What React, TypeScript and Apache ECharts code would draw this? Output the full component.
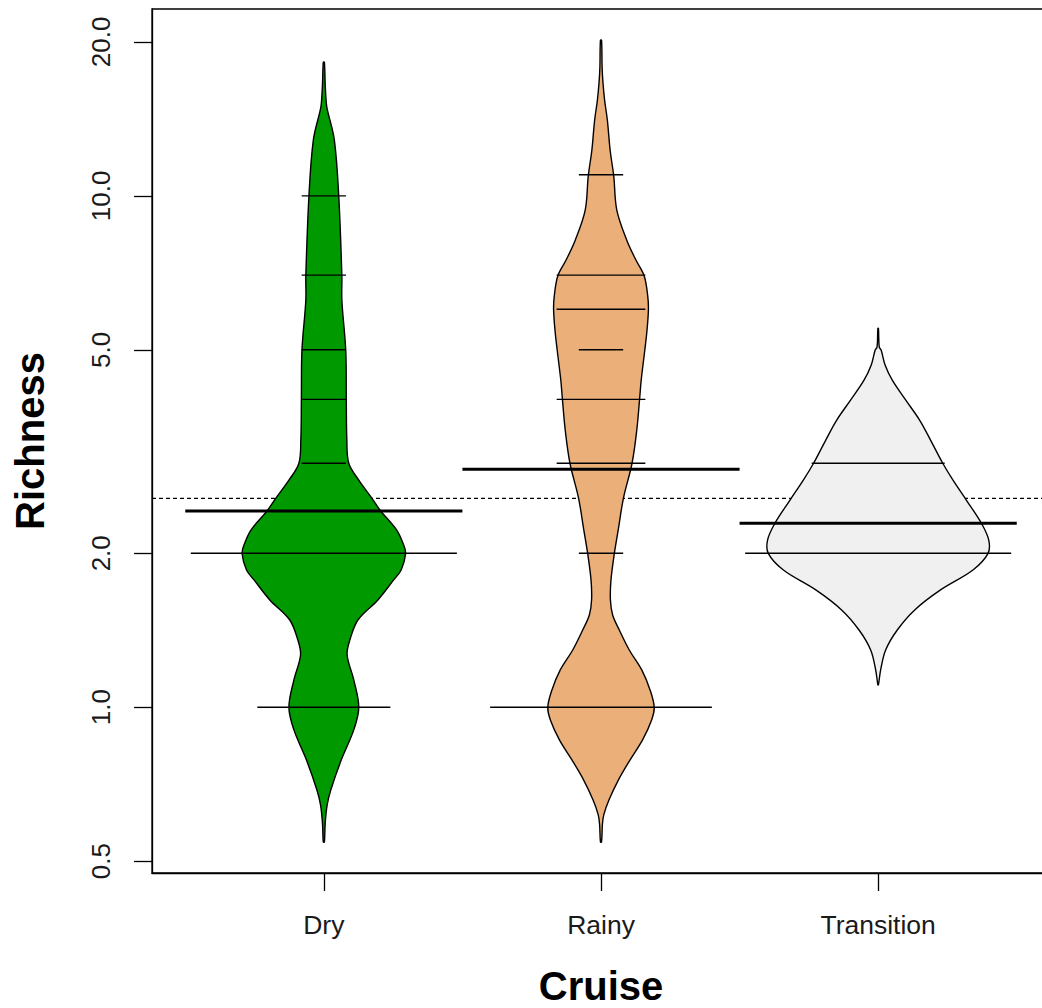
import React, { useEffect, useRef } from "react";
import * as echarts from "echarts";

// ---- data ----
const CATEGORIES = ["Dry", "Rainy", "Transition"];
const BEAN_COLORS = ["#009900", "#EBB07A", "#F0F0F0"];
const Y_TICKS = [0.5, 1, 2, 5, 10, 20];

// density outline: richness value and half-width (x units)
const DRY_DENS_V = [18.25, 16.46, 15.18, 14.71, 12.85, 9.94, 6.97, 6.25, 4.99, 3.99, 3.33, 3.0, 2.78, 2.565, 2.42, 2.22, 2.076, 1.997, 1.855, 1.774, 1.621, 1.481, 1.354, 1.265, 1.131, 1.0, 0.903, 0.789, 0.689, 0.644, 0.594, 0.545];
const DRY_DENS_W = [0.002, 0.005, 0.009, 0.013, 0.038, 0.054, 0.065, 0.065, 0.079, 0.081, 0.083, 0.09, 0.126, 0.173, 0.205, 0.263, 0.288, 0.295, 0.279, 0.252, 0.195, 0.123, 0.094, 0.084, 0.108, 0.126, 0.108, 0.063, 0.025, 0.012, 0.005, 0.002];
const RAINY_DENS_V = [20.16, 17.85, 16.68, 15.39, 14.06, 12.28, 10.93, 9.38, 8.19, 7.49, 6.97, 6.34, 5.98, 5.46, 4.99, 4.36, 3.99, 3.48, 3.0, 2.565, 2.22, 1.997, 1.774, 1.621, 1.515, 1.416, 1.294, 1.183, 1.081, 1.0, 0.945, 0.863, 0.789, 0.721, 0.659, 0.616, 0.589, 0.545];
const RAINY_DENS_W = [0.002, 0.004, 0.007, 0.013, 0.023, 0.033, 0.046, 0.057, 0.093, 0.126, 0.156, 0.169, 0.171, 0.166, 0.158, 0.145, 0.139, 0.129, 0.112, 0.081, 0.062, 0.048, 0.036, 0.034, 0.042, 0.066, 0.102, 0.147, 0.177, 0.192, 0.183, 0.15, 0.105, 0.063, 0.029, 0.01, 0.005, 0.002];
const TRANS_DENS_V = [5.51, 5.06, 4.99, 4.67, 4.36, 3.99, 3.64, 3.33, 3.0, 2.78, 2.542, 2.292, 2.123, 1.997, 1.855, 1.696, 1.55, 1.416, 1.294, 1.183, 1.106];
const TRANS_DENS_W = [0.001, 0.004, 0.011, 0.025, 0.051, 0.099, 0.15, 0.189, 0.233, 0.27, 0.318, 0.372, 0.399, 0.396, 0.342, 0.225, 0.132, 0.069, 0.027, 0.009, 0.001];

// observations (bean lines) and number of tied observations at each value
const DRY_OBS = [10, 7, 5, 4, 3, 2, 1];
const DRY_OBS_N = [1, 1, 1, 1, 1, 6, 3];
const RAINY_OBS = [11, 7, 6, 5, 4, 3, 2, 1];
const RAINY_OBS_N = [1, 2, 2, 1, 2, 2, 1, 5];
const TRANS_OBS = [3, 2];
const TRANS_OBS_N = [3, 6];

// group means (log scale) and overall mean
const GROUP_MEANS = [2.42, 2.92, 2.29];
const OVERALL_MEAN = 2.56;

// ---- layout constants ----
const X_MIN = 0.38;
const X_MAX = 3.62;
const Y_MIN = 0.474;
const Y_MAX = 23.2;
const LINE_PER_OBS = 0.16;
const MEAN_HALF = 0.5;
const FONT = "'Liberation Sans', Arial, Helvetica, sans-serif";

const lg = (v: number) => Math.log10(v);

const PROFILES = [
  { v: DRY_DENS_V, w: DRY_DENS_W },
  { v: RAINY_DENS_V, w: RAINY_DENS_W },
  { v: TRANS_DENS_V, w: TRANS_DENS_W },
];
const OBS = [
  { v: DRY_OBS, n: DRY_OBS_N },
  { v: RAINY_OBS, n: RAINY_OBS_N },
  { v: TRANS_OBS, n: TRANS_OBS_N },
];

export default function App() {
  const ref = useRef<HTMLDivElement>(null);
  useEffect(() => {
    if (!ref.current) return;
    const chart = echarts.init(ref.current, undefined, { renderer: "svg" });

    const beanData = CATEGORIES.map((_, i) => [i + 1, lg(GROUP_MEANS[i])]);
    const lineData: number[][] = [];
    OBS.forEach((o, i) => {
      o.v.forEach((val, k) => lineData.push([i + 1, lg(val), o.n[k]]));
    });
    const meanData = CATEGORIES.map((_, i) => [i + 1, lg(GROUP_MEANS[i])]);

    const option: any = {
      animation: false,
      backgroundColor: "#ffffff",
      grid: {
        left: 152,
        top: 9,
        width: 898,
        height: 864,
        containLabel: false,
        outerBoundsMode: "none",
        show: true,
        borderColor: "#000",
        borderWidth: 1.3,
        backgroundColor: "transparent",
      },
      xAxis: {
        type: "value",
        min: X_MIN,
        max: X_MAX,
        name: "Cruise",
        nameLocation: "middle",
        nameGap: 93,
        nameTextStyle: { fontSize: 40, fontWeight: "bold", color: "#000", fontFamily: FONT },
        axisLine: { show: true, onZero: false, lineStyle: { color: "#000", width: 1.3 } },
        axisTick: { show: true, length: 18, customValues: [1, 2, 3], lineStyle: { color: "#000", width: 1.3 } },
        axisLabel: {
          customValues: [1, 2, 3],
          formatter: (v: number) => CATEGORIES[Math.round(v) - 1] ?? "",
          fontSize: 26.5,
          margin: 38,
          color: "#1a1a1a",
          fontFamily: FONT,
        },
        splitLine: { show: false },
      },
      yAxis: {
        type: "value",
        min: lg(Y_MIN),
        max: lg(Y_MAX),
        name: "Richness",
        nameLocation: "middle",
        nameGap: 102,
        nameTextStyle: { fontSize: 40, fontWeight: "bold", color: "#000", fontFamily: FONT },
        axisLine: { show: true, onZero: false, lineStyle: { color: "#000", width: 1.3 } },
        axisTick: { show: true, length: 18, customValues: Y_TICKS.map(lg), lineStyle: { color: "#000", width: 1.3 } },
        axisLabel: {
          customValues: Y_TICKS.map(lg),
          formatter: (v: number) => Math.pow(10, v).toFixed(1),
          rotate: 90,
          fontSize: 26,
          margin: 38,
          color: "#1a1a1a",
          fontFamily: FONT,
        },
        splitLine: { show: false },
      },
      series: [
        {
          type: "custom",
          name: "overall",
          silent: true,
          data: [[X_MIN, lg(OVERALL_MEAN)]],
          encode: { x: 0, y: 1 },
          renderItem: (params: any, api: any) => {
            const y = api.value(1);
            const p0 = api.coord([X_MIN, y]);
            const p1 = api.coord([X_MAX, y]);
            return {
              type: "line",
              shape: { x1: p0[0], y1: p0[1], x2: p1[0], y2: p1[1] },
              style: { stroke: "#000", lineWidth: 1.3, lineDash: [4, 3] },
            };
          },
        },
        {
          type: "custom",
          name: "beans",
          silent: true,
          data: beanData,
          encode: { x: 0, y: 1 },
          renderItem: (params: any, api: any) => {
            const i = params.dataIndex;
            const cx = api.value(0);
            const prof = PROFILES[i];
            const pts: number[][] = [];
            for (let k = 0; k < prof.v.length; k++) pts.push(api.coord([cx - prof.w[k], lg(prof.v[k])]));
            for (let k = prof.v.length - 1; k >= 0; k--) pts.push(api.coord([cx + prof.w[k], lg(prof.v[k])]));
            return {
              type: "polygon",
              shape: { points: pts, smooth: 0.35 },
              style: { fill: BEAN_COLORS[i], stroke: "#000", lineWidth: 1.4 },
            };
          },
        },
        {
          type: "custom",
          name: "beanlines",
          silent: true,
          data: lineData,
          encode: { x: 0, y: 1 },
          renderItem: (params: any, api: any) => {
            const cx = api.value(0);
            const y = api.value(1);
            const n = api.value(2);
            const half = (LINE_PER_OBS * n) / 2;
            const p0 = api.coord([cx - half, y]);
            const p1 = api.coord([cx + half, y]);
            return {
              type: "line",
              shape: { x1: p0[0], y1: p0[1], x2: p1[0], y2: p1[1] },
              style: { stroke: "#000", lineWidth: 1.4 },
            };
          },
        },
        {
          type: "custom",
          name: "means",
          silent: true,
          data: meanData,
          encode: { x: 0, y: 1 },
          renderItem: (params: any, api: any) => {
            const cx = api.value(0);
            const y = api.value(1);
            const p0 = api.coord([cx - MEAN_HALF, y]);
            const p1 = api.coord([cx + MEAN_HALF, y]);
            return {
              type: "line",
              shape: { x1: p0[0], y1: p0[1], x2: p1[0], y2: p1[1] },
              style: { stroke: "#000", lineWidth: 3 },
            };
          },
        },
      ],
    };
    chart.setOption(option);
    return () => chart.dispose();
  }, []);

  return (
    <div
      ref={ref}
      style={{ position: "absolute", left: 0, top: 0, width: 1042, height: 1008, background: "#fff" }}
    />
  );
}
